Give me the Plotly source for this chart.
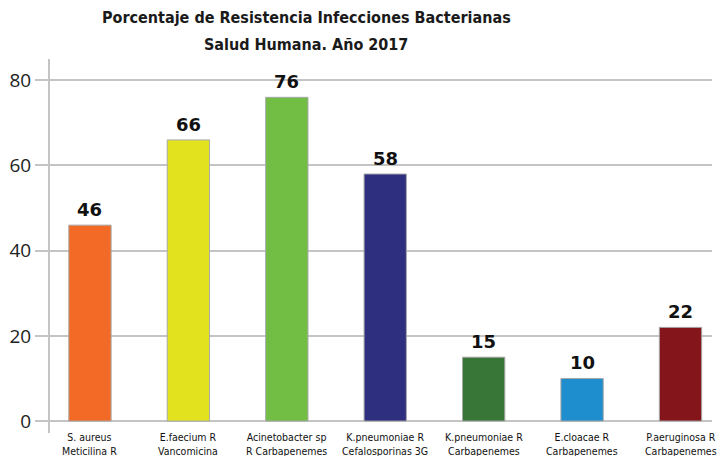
import plotly.graph_objects as go

categories = [
    "S. aureus<br>Meticilina R",
    "E.faecium R<br>Vancomicina",
    "Acinetobacter sp<br>R Carbapenemes",
    "K.pneumoniae R<br>Cefalosporinas 3G",
    "K.pneumoniae R<br>Carbapenemes",
    "E.cloacae R<br>Carbapenemes",
    "P.aeruginosa R<br>Carbapenemes",
]
values = [46, 66, 76, 58, 15, 10, 22]
colors = ["#F26A25", "#E2E21F", "#72BE44", "#2E2F7E", "#387637", "#1F8ECE", "#84161B"]
y_ticks = [0, 20, 40, 60, 80]
title_lines = ["Porcentaje de Resistencia Infecciones Bacterianas", "Salud Humana. Año 2017"]

x_idx = list(range(len(categories)))

fig = go.Figure()
fig.add_trace(go.Bar(
    x=x_idx, y=values, width=0.43,
    marker=dict(color=colors, line=dict(color="#a8a8a8", width=1)),
    hoverinfo="skip",
))

# value labels above bars
for i, v in zip(x_idx, values):
    fig.add_annotation(x=i, y=v, text=f"<b>{v}</b>", showarrow=False,
                       yanchor="bottom", yshift=3,
                       font=dict(family="DejaVu Sans", size=18, color="#111111"))

# category labels under the axis
for i, c in zip(x_idx, categories):
    fig.add_annotation(x=i, xref="x", yref="paper", y=(433 - 429) / 374,
                       text=c, showarrow=False, xanchor="center", yanchor="top",
                       font=dict(family="DejaVu Sans Condensed", size=10.5, color="#111111"))

# two-line title
title_y = [17, 44]
for line, yc in zip(title_lines, title_y):
    fig.add_annotation(
        xref="paper", yref="paper", x=(306 - 50) / 662, y=1 + (59 - yc) / 374,
        xanchor="center", yanchor="middle", showarrow=False,
        text="<b>" + line + "</b>",
        font=dict(family="DejaVu Sans Condensed", size=16, color="#1a1a1a"),
    )

fig.update_layout(
    width=719, height=456,
    margin=dict(l=50, r=7, t=59, b=23, autoexpand=False),
    paper_bgcolor="white", plot_bgcolor="white",
    showlegend=False,
)
fig.update_xaxes(
    range=[-0.406, 6.32],
    showticklabels=False,
    showgrid=False, showline=False, zeroline=False, ticks="",
    automargin=False,
)
fig.update_yaxes(
    range=[-2.8, 85],
    tickmode="array", tickvals=y_ticks,
    tickfont=dict(family="Open Sans", size=19, color="#222222"),
    showgrid=True, gridcolor="#c4c4c4", gridwidth=1.5,
    zeroline=False,
    showline=True, linecolor="#c4c4c4", linewidth=2,
    ticks="outside", ticklen=13, tickcolor="#c4c4c4", tickwidth=1.5,
    automargin=False,
)

fig.write_html("out.html", config={"displayModeBar": False},
               post_script="document.body.style.margin='0';")
